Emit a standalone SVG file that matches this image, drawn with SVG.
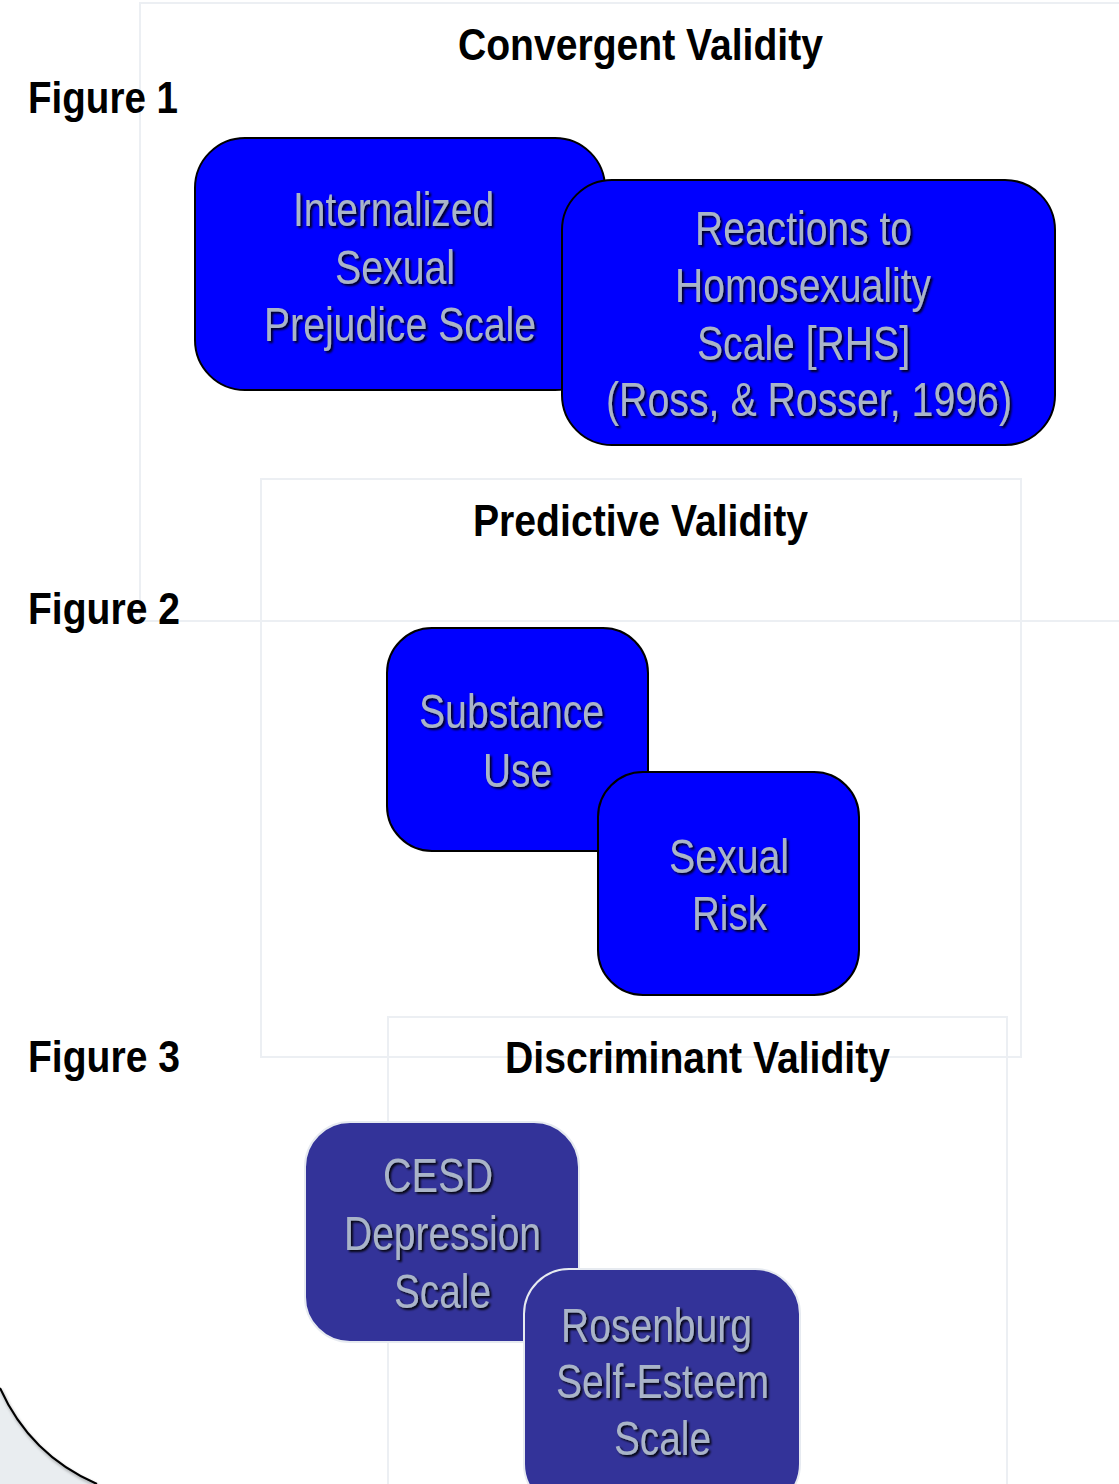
<svg xmlns="http://www.w3.org/2000/svg" width="1119" height="1484" viewBox="0 0 1119 1484">
<defs>
<style>
.frame{fill:none;stroke:#eceff3;stroke-width:2}
.title{font-family:"Liberation Sans",Arial,sans-serif;font-weight:bold;font-size:45px;fill:#000}
.lbl{font-family:"Liberation Sans",Arial,sans-serif;font-size:48px;fill:#a9b4c8;text-anchor:middle;filter:url(#ts)}
.b1{fill:#0000ff;stroke:#000;stroke-width:2}
.b2{fill:#333399;stroke:#e6eaf0;stroke-width:2}
</style>
<filter id="ts" x="-10%" y="-20%" width="120%" height="150%">
<feDropShadow dx="2" dy="2" stdDeviation="0.8" flood-color="#000" flood-opacity="0.9"/>
</filter>
<filter id="cs" x="-20%" y="-20%" width="140%" height="140%">
<feDropShadow dx="1" dy="2" stdDeviation="1.5" flood-color="#000" flood-opacity="0.35"/>
</filter>
</defs>
<rect width="1119" height="1484" fill="#fff"/>
<g id="background">
<path d="M0,1388 Q30,1455 97,1484 L0,1484 Z" fill="#e9edf0"/>
<path d="M0,1388 Q30,1455 97,1484" fill="none" stroke="#000" stroke-width="2" filter="url(#cs)"/>
<rect class="frame" x="140" y="3" width="1000" height="618"/>
<rect class="frame" x="261" y="479" width="760" height="578"/>
<rect class="frame" x="388" y="1017" width="619" height="500"/>
</g>
<g id="titles">
<text class="title" x="640.5" y="60" text-anchor="middle" textLength="365" lengthAdjust="spacingAndGlyphs">Convergent Validity</text>
<text class="title" x="28" y="113" textLength="150" lengthAdjust="spacingAndGlyphs">Figure 1</text>
<text class="title" x="640.5" y="536" text-anchor="middle" textLength="335" lengthAdjust="spacingAndGlyphs">Predictive Validity</text>
<text class="title" x="28" y="624" textLength="152" lengthAdjust="spacingAndGlyphs">Figure 2</text>
<text class="title" x="28" y="1072" textLength="152" lengthAdjust="spacingAndGlyphs">Figure 3</text>
<text class="title" x="697.5" y="1073" text-anchor="middle" textLength="385" lengthAdjust="spacingAndGlyphs">Discriminant Validity</text>
</g>
<g id="connectors"></g>
<g id="node-isps">
<rect class="b1" x="195" y="138" width="410" height="252" rx="50"/>
<text class="lbl" x="393.5" y="226" textLength="201" lengthAdjust="spacingAndGlyphs">Internalized</text>
<text class="lbl" x="395" y="284" textLength="120" lengthAdjust="spacingAndGlyphs">Sexual</text>
<text class="lbl" x="400" y="341" textLength="272" lengthAdjust="spacingAndGlyphs">Prejudice Scale</text>
</g>
<g id="node-rhs">
<rect class="b1" x="562" y="180" width="493" height="265" rx="50"/>
<text class="lbl" x="803.5" y="245" textLength="217" lengthAdjust="spacingAndGlyphs">Reactions to</text>
<text class="lbl" x="803" y="302" textLength="256" lengthAdjust="spacingAndGlyphs">Homosexuality</text>
<text class="lbl" x="803.5" y="360" textLength="213" lengthAdjust="spacingAndGlyphs">Scale [RHS]</text>
<text class="lbl" x="809" y="416" textLength="406" lengthAdjust="spacingAndGlyphs">(Ross, &amp; Rosser, 1996)</text>
</g>
<g id="node-substance">
<rect class="b1" x="387" y="628" width="261" height="223" rx="45"/>
<text class="lbl" x="511.5" y="728" textLength="185" lengthAdjust="spacingAndGlyphs">Substance</text>
<text class="lbl" x="517.5" y="787" textLength="69" lengthAdjust="spacingAndGlyphs">Use</text>
</g>
<g id="node-sexrisk">
<rect class="b1" x="598" y="772" width="261" height="223" rx="45"/>
<text class="lbl" x="729" y="873" textLength="120" lengthAdjust="spacingAndGlyphs">Sexual</text>
<text class="lbl" x="729.5" y="930" textLength="75" lengthAdjust="spacingAndGlyphs">Risk</text>
</g>
<g id="node-cesd">
<rect class="b2" x="305" y="1122" width="274" height="220" rx="45"/>
<text class="lbl" x="438" y="1192" textLength="110" lengthAdjust="spacingAndGlyphs">CESD</text>
<text class="lbl" x="442.5" y="1250" textLength="197" lengthAdjust="spacingAndGlyphs">Depression</text>
<text class="lbl" x="442.5" y="1308" textLength="97" lengthAdjust="spacingAndGlyphs">Scale</text>
</g>
<g id="node-rosenburg">
<rect class="b2" x="524" y="1269" width="276" height="240" rx="45"/>
<text class="lbl" x="656.5" y="1342" textLength="191" lengthAdjust="spacingAndGlyphs">Rosenburg</text>
<text class="lbl" x="662.5" y="1398" textLength="213" lengthAdjust="spacingAndGlyphs">Self-Esteem</text>
<text class="lbl" x="662.5" y="1455" textLength="97" lengthAdjust="spacingAndGlyphs">Scale</text>
</g>
</svg>
